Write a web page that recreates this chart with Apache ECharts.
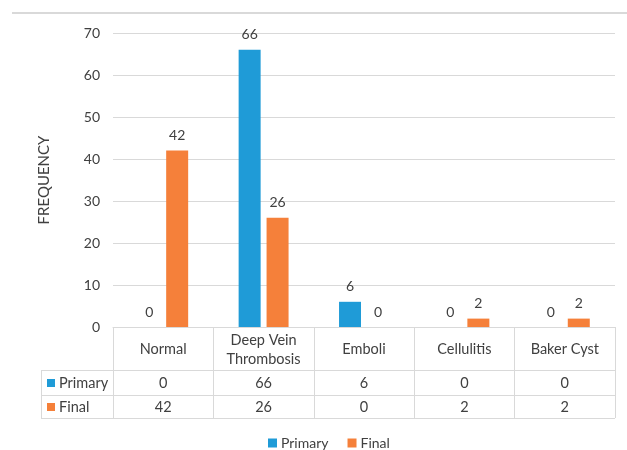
<!DOCTYPE html>
<html>
<head>
<meta charset="utf-8">
<script src="https://cdn.jsdelivr.net/npm/echarts@6/dist/echarts.min.js"></script>
<style>
  html, body { margin: 0; padding: 0; background: #ffffff; }
  #chart { width: 627px; height: 450px; }
</style>
</head>
<body>
<div id="chart"></div>
<script>
// Data
const categories = ['Normal', 'Deep Vein\nThrombosis', 'Emboli', 'Cellulitis', 'Baker Cyst'];
const seriesNames = ['Primary', 'Final'];
const primaryValues = [0, 66, 6, 0, 0];
const finalValues = [42, 26, 0, 2, 2];
const yMin = 0;
const yMax = 70;
const yStep = 10;

// Styling
const FONT = 'Lato, "Noto Sans", sans-serif';
const TEXT = '#404040';
const LINE = '#d9d9d9';
const COLORS = ['#1f9bd7', '#f5803a'];

// Table geometry (below the category axis)
const tableTop = 327;
const headerBottom = 370;
const rowBottoms = [395, 418];
const legendColLeft = 41;

const chart = echarts.init(document.getElementById('chart'), null, { renderer: 'canvas' });

const seriesData = [primaryValues, finalValues];

chart.setOption({
  animation: false,
  textStyle: { fontFamily: FONT },
  color: COLORS,
  grid: { left: 113, right: 12, top: 33, bottom: 450 - tableTop, containLabel: false },
  legend: {
    data: seriesNames,
    left: 268,
    top: 436,
    padding: 0,
    icon: 'rect',
    itemWidth: 9,
    itemHeight: 9,
    itemGap: 19,
    textStyle: { fontFamily: FONT, fontSize: 14, color: TEXT, padding: [0, 0, 0, -1] }
  },
  xAxis: {
    type: 'category',
    data: categories,
    axisLine: { show: true, lineStyle: { color: LINE, width: 1 } },
    axisTick: { show: true, inside: false, length: rowBottoms[1] - tableTop, lineStyle: { color: LINE, width: 1 } },
    axisLabel: { show: false },
    splitLine: { show: false }
  },
  yAxis: {
    type: 'value',
    min: yMin,
    max: yMax,
    interval: yStep,
    name: 'FREQUENCY',
    nameLocation: 'middle',
    nameRotate: 90,
    nameGap: 61,
    nameTextStyle: { fontFamily: FONT, fontSize: 15, color: TEXT },
    axisLine: { show: false },
    axisTick: { show: false },
    axisLabel: { margin: 13, fontFamily: FONT, fontSize: 14, color: TEXT },
    splitLine: { lineStyle: { color: LINE, width: 1 } }
  },
  series: seriesNames.map((name, i) => ({
    name: name,
    type: 'bar',
    data: seriesData[i],
    barWidth: 22,
    barGap: '27%',
    label: {
      show: true,
      position: 'top',
      distance: 8,
      fontFamily: FONT,
      fontSize: 14,
      color: TEXT
    }
  }))
});

// Data table drawn beneath the axis, positioned from the category scale
function buildTable() {
  const centers = categories.map((c, i) => chart.convertToPixel({ xAxisIndex: 0 }, i));
  const right = chart.convertToPixel({ xAxisIndex: 0 }, categories.length - 1) +
                (centers[1] - centers[0]) / 2;
  const els = [];

  // chart area top border
  els.push({ type: 'line', shape: { x1: 12, y1: 13, x2: 627, y2: 13 },
             style: { stroke: LINE, lineWidth: 2 }, silent: true });

  // horizontal rules for the data rows
  [headerBottom].concat(rowBottoms).forEach(y => {
    els.push({ type: 'line', shape: { x1: legendColLeft, y1: y + 0.5, x2: right, y2: y + 0.5 },
               style: { stroke: LINE, lineWidth: 1 }, silent: true });
  });
  // left edge of the legend column
  els.push({ type: 'line', shape: { x1: legendColLeft + 0.5, y1: headerBottom, x2: legendColLeft + 0.5, y2: rowBottoms[1] },
             style: { stroke: LINE, lineWidth: 1 }, silent: true });

  // header cells
  categories.forEach((c, i) => {
    els.push({ type: 'text', x: centers[i], y: (tableTop + headerBottom) / 2 + 1,
               style: { text: c, fontFamily: FONT, fontSize: 14.5, fill: TEXT, lineHeight: 19,
                        align: 'center', verticalAlign: 'middle' }, silent: true });
  });

  // series rows
  const rowTops = [headerBottom, rowBottoms[0]];
  seriesNames.forEach((name, r) => {
    const cy = (rowTops[r] + rowBottoms[r]) / 2 + 0.5;
    els.push({ type: 'rect', shape: { x: 47, y: cy - 4, width: 8, height: 8 },
               style: { fill: COLORS[r] }, silent: true });
    els.push({ type: 'text', x: 59, y: cy,
               style: { text: name, fontFamily: FONT, fontSize: 14.5, fill: TEXT,
                        align: 'left', verticalAlign: 'middle' }, silent: true });
    seriesData[r].forEach((v, i) => {
      els.push({ type: 'text', x: centers[i], y: cy,
                 style: { text: String(v), fontFamily: FONT, fontSize: 14.5, fill: TEXT,
                          align: 'center', verticalAlign: 'middle' }, silent: true });
    });
  });

  chart.setOption({ graphic: { elements: els } });
}
buildTable();
</script>
</body>
</html>
